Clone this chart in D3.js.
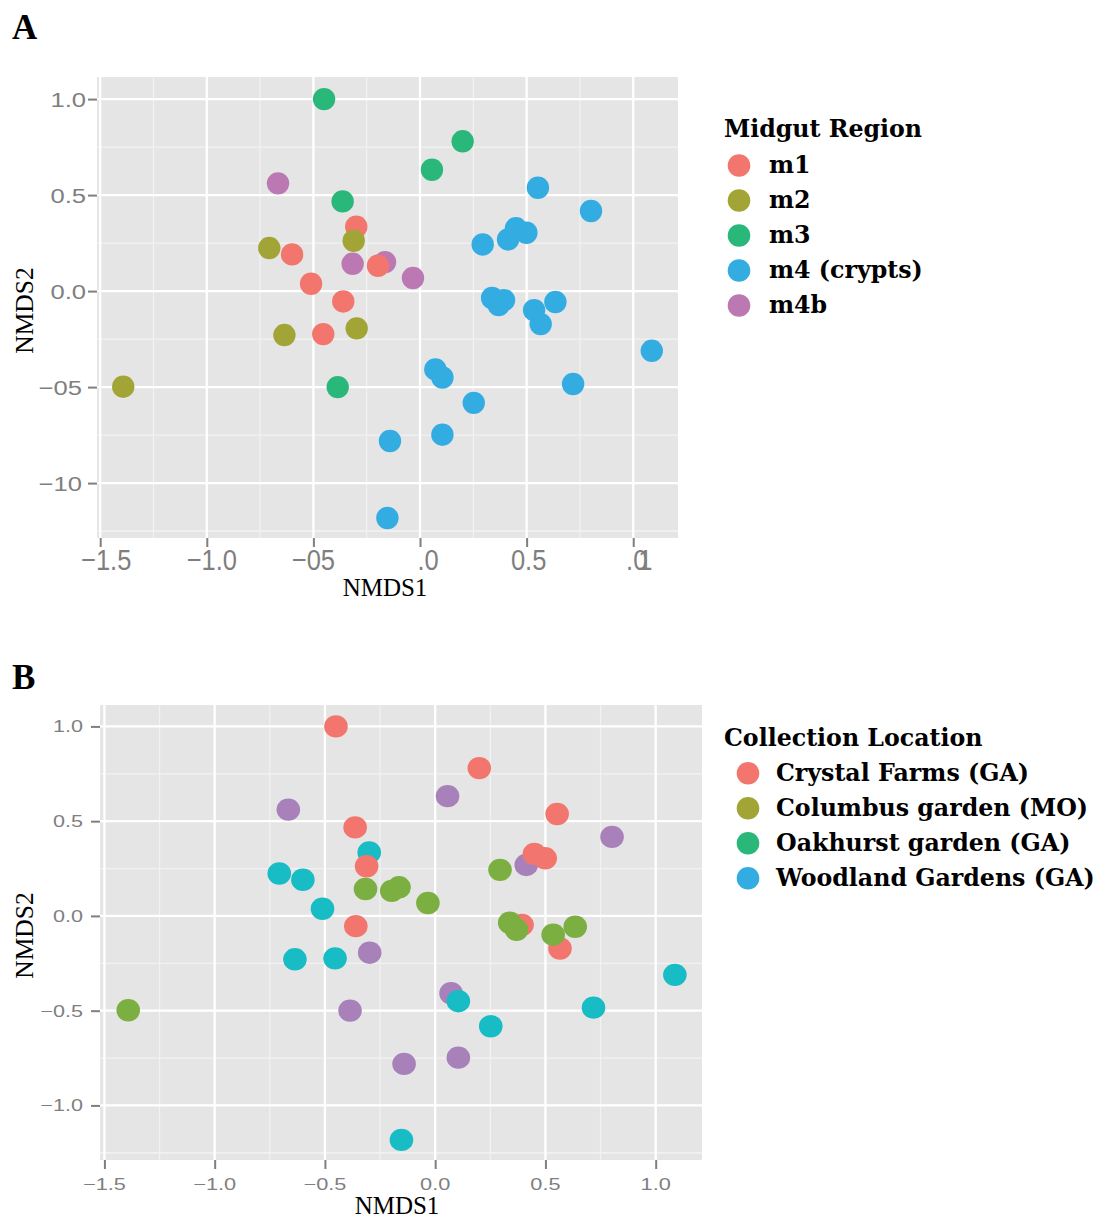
<!DOCTYPE html>
<html>
<head>
<meta charset="utf-8">
<script src="https://cdn.jsdelivr.net/npm/d3@7"></script>
<style>
  html, body { margin: 0; padding: 0; background: #ffffff; }
  svg { display: block; }
</style>
</head>
<body>
<svg id="fig" width="1102" height="1219"></svg>
<script>
// NMDS ordination scores, one entry per sample
const nmds1 = [
  -0.666, -0.316, -0.164, -0.033,
  -0.299, -0.600, -0.197, -0.511, -0.360, -0.454,
  -0.707, -0.311, -0.636, -0.297, -1.392,
  -0.450, 0.200, 0.056, -0.363, -0.386,
  0.553, 0.802, 0.294, 0.413, 0.450, 0.499, 0.394, 0.338, 0.369, 0.566,
  0.535, 0.635, 1.087, 0.072, 0.105, 0.718, 0.252, -0.141, 0.105, -0.153
];
const nmds2 = [
  0.561, 0.142, 0.151, 0.068,
  0.335, 0.191, 0.132, 0.038, -0.054, -0.224,
  0.224, 0.262, -0.229, -0.194, -0.498,
  1.000, 0.780, 0.632, 0.467, -0.500,
  0.538, 0.417, 0.243, 0.269, 0.327, 0.304, -0.047, -0.036, -0.073, -0.172,
  -0.099, -0.057, -0.311, -0.408, -0.450, -0.484, -0.582, -0.781, -0.748, -1.182
];
// midgut region of each sample (index into regionLevels)
const region = [
  4, 4, 4, 4,
  0, 0, 0, 0, 0, 0,
  1, 1, 1, 1, 1,
  2, 2, 2, 2, 2,
  3, 3, 3, 3, 3, 3, 3, 3, 3, 3,
  3, 3, 3, 3, 3, 3, 3, 3, 3, 3
];
// collection location of each sample (index into locationLevels)
const site = [
  3, 1, 1, 1,
  2, 2, 1, 2, 0, 2,
  2, 0, 2, 3, 1,
  0, 0, 3, 0, 3,
  0, 3, 1, 3, 0, 0, 0, 1, 1, 0,
  1, 1, 2, 3, 2, 2, 2, 3, 3, 2
];

const regionLevels = ["m1", "m2", "m3", "m4 (crypts)", "m4b"];
const locationLevels = ["Crystal Farms (GA)", "Columbus garden (MO)", "Oakhurst garden (GA)", "Woodland Gardens (GA)"];

const regionColors = ["#F3766E", "#A2A536", "#2AB87A", "#33ACE2", "#BC78B3"];
const locationPointColors = ["#F3766E", "#7BAF41", "#17BCC4", "#A880BA"];
const locationKeyColors = ["#F3766E", "#A2A536", "#2AB87A", "#33ACE2"];

const tickValues = [-1.5, -1.0, -0.5, 0.0, 0.5, 1.0];
const minorValues = [-1.25, -0.75, -0.25, 0.25, 0.75];
const tickLabelsAx = ["\u22121.5", "\u22121.0", "\u221205", ".0", "0.5", ".0"];
const tickLabelsAy = ["\u221210", "\u221205", "0.0", "0.5", "1.0"];
const tickLabelsBx = ["\u22121.5", "\u22121.0", "\u22120.5", "0.0", "0.5", "1.0"];
const tickLabelsBy = ["\u22121.0", "\u22120.5", "0.0", "0.5", "1.0"];
const yTickValues = [-1.0, -0.5, 0.0, 0.5, 1.0];

const svg = d3.select("#fig");
const sans = "'Liberation Sans', Arial, Helvetica, sans-serif";
const serif = "'Liberation Serif', 'Times New Roman', serif";
const keyFont = "'DejaVu Serif', serif";

function drawPanel(cfg) {
  const g = svg.append("g");
  const x = d3.scaleLinear().domain(cfg.xDomain).range([cfg.left, cfg.right]);
  const y = d3.scaleLinear().domain(cfg.yDomain).range([cfg.bottom, cfg.top]);

  // panel label
  g.append("text").attr("x", 12).attr("y", cfg.tagY)
    .attr("font-family", serif).attr("font-weight", "bold").attr("font-size", 35)
    .text(cfg.tag);

  // background
  g.append("rect").attr("x", cfg.left).attr("y", cfg.top)
    .attr("width", cfg.right - cfg.left).attr("height", cfg.bottom - cfg.top)
    .attr("fill", "#E5E5E5");

  // minor grid
  g.selectAll(".vminor").data(minorValues).join("line")
    .attr("x1", d => x(d)).attr("x2", d => x(d)).attr("y1", cfg.top).attr("y2", cfg.bottom)
    .attr("stroke", "#F2F2F2").attr("stroke-width", 1.2);
  g.selectAll(".hminor").data(minorValues.concat([-1.25])).join("line")
    .attr("x1", cfg.left).attr("x2", cfg.right).attr("y1", d => y(d)).attr("y2", d => y(d))
    .attr("stroke", "#F2F2F2").attr("stroke-width", 1.2);
  // major grid
  g.selectAll(".vmajor").data(tickValues).join("line")
    .attr("x1", d => x(d)).attr("x2", d => x(d)).attr("y1", cfg.top).attr("y2", cfg.bottom)
    .attr("stroke", "#FFFFFF").attr("stroke-width", 2.3);
  g.selectAll(".hmajor").data(yTickValues).join("line")
    .attr("x1", cfg.left).attr("x2", cfg.right).attr("y1", d => y(d)).attr("y2", d => y(d))
    .attr("stroke", "#FFFFFF").attr("stroke-width", 2.3);

  // axes with tick marks only; labels are set separately
  const xAxis = d3.axisBottom(x).tickValues(tickValues).tickSize(9).tickFormat("");
  const yAxis = d3.axisLeft(y).tickValues(yTickValues).tickSize(9).tickFormat("");
  const gx = g.append("g").attr("transform", `translate(0,${cfg.bottom})`).call(xAxis);
  const gy = g.append("g").attr("transform", `translate(${cfg.left},0)`).call(yAxis);
  [gx, gy].forEach(a => {
    a.select(".domain").remove();
    a.selectAll(".tick line").attr("stroke", "#7F7F7F").attr("stroke-width", 2);
  });

  // x tick labels
  tickValues.forEach((v, i) => {
    const t = g.append("g").attr("transform", `translate(${x(v) + cfg.xLabelShift[i]},${cfg.xLabelBase})`)
      .append("text").attr("transform", `scale(${cfg.xLabelScale},1)`)
      .attr("text-anchor", "middle").attr("font-family", sans)
      .attr("font-size", cfg.xLabelSize).attr("fill", "#7F7F7F")
      .text(cfg.xLabels[i]);
    if (cfg.overlapLast && i === tickValues.length - 1) {
      t.append("tspan").attr("dx", -cfg.xLabelSize * 0.36).text("1");
    }
  });
  // y tick labels
  yTickValues.forEach((v, i) => {
    g.append("g").attr("transform", `translate(${cfg.yLabelRight[i]},${y(v)})`)
      .append("text").attr("transform", `scale(${cfg.yLabelScale},1)`)
      .attr("text-anchor", "end").attr("dy", "0.36em").attr("font-family", sans)
      .attr("font-size", cfg.yLabelSize).attr("fill", "#7F7F7F")
      .text(cfg.yLabels[i]);
  });

  // axis titles
  g.append("text").attr("x", cfg.xTitleX).attr("y", cfg.xTitleY)
    .attr("text-anchor", "middle").attr("font-family", serif).attr("font-size", 25)
    .text("NMDS1");
  g.append("text").attr("transform", `translate(33,${(cfg.top + cfg.bottom) / 2 + 3}) rotate(-90)`)
    .attr("text-anchor", "middle").attr("font-family", serif).attr("font-size", 25.5)
    .text("NMDS2");

  // samples
  g.selectAll(".pt").data(nmds1.map((d, i) => i)).join("ellipse")
    .attr("cx", i => x(nmds1[i])).attr("cy", i => y(nmds2[i]))
    .attr("rx", cfg.rx).attr("ry", cfg.ry)
    .attr("fill", i => cfg.color(i));

  // key
  const k = svg.append("g");
  k.append("text").attr("x", 724).attr("y", cfg.keyTitleY)
    .attr("font-family", keyFont).attr("font-weight", "bold").attr("font-size", 23.7)
    .text(cfg.keyTitle);
  cfg.keyLabels.forEach((lab, i) => {
    const cy = cfg.keyFirstY + i * 35;
    k.append("circle").attr("cx", cfg.keyDotX).attr("cy", cy).attr("r", 11.3)
      .attr("fill", cfg.keyColors[i]);
    k.append("text").attr("x", cfg.keyTextX).attr("y", cy + 7.5)
      .attr("font-family", keyFont).attr("font-weight", "bold").attr("font-size", 23.7)
      .text(lab);
  });
}

drawPanel({
  tag: "A", tagY: 39,
  left: 97, right: 678, top: 77, bottom: 538,
  xDomain: [-1.515, 1.21], yDomain: [-1.286, 1.115],
  xLabels: tickLabelsAx, xLabelSize: 30, xLabelScale: 0.85, xLabelBase: 570,
  xLabelShift: [6, 5, 0, 8, 2, 6], overlapLast: true,
  yLabels: tickLabelsAy, yLabelSize: 21, yLabelScale: 1.22,
  yLabelRight: [82, 82, 86, 86, 86],
  xTitleX: 385, xTitleY: 596,
  rx: 11.2, ry: 11.2,
  color: i => regionColors[region[i]],
  keyTitle: "Midgut Region", keyTitleY: 137, keyFirstY: 165.5, keyDotX: 739, keyTextX: 769,
  keyLabels: regionLevels, keyColors: regionColors
});

drawPanel({
  tag: "B", tagY: 689,
  left: 100, right: 702, top: 705, bottom: 1160,
  xDomain: [-1.52, 1.21], yDomain: [-1.288, 1.113],
  xLabels: tickLabelsBx, xLabelSize: 16.5, xLabelScale: 1.32, xLabelBase: 1189.5,
  xLabelShift: [0, 0, 0, 0, 0, 0], overlapLast: false,
  yLabels: tickLabelsBy, yLabelSize: 16.5, yLabelScale: 1.31,
  yLabelRight: [83, 83, 83, 83, 83],
  xTitleX: 397, xTitleY: 1214,
  rx: 11.8, ry: 11.2,
  color: i => locationPointColors[site[i]],
  keyTitle: "Collection Location", keyTitleY: 746, keyFirstY: 773.3, keyDotX: 748, keyTextX: 776,
  keyLabels: locationLevels, keyColors: locationKeyColors
});
</script>
</body>
</html>
